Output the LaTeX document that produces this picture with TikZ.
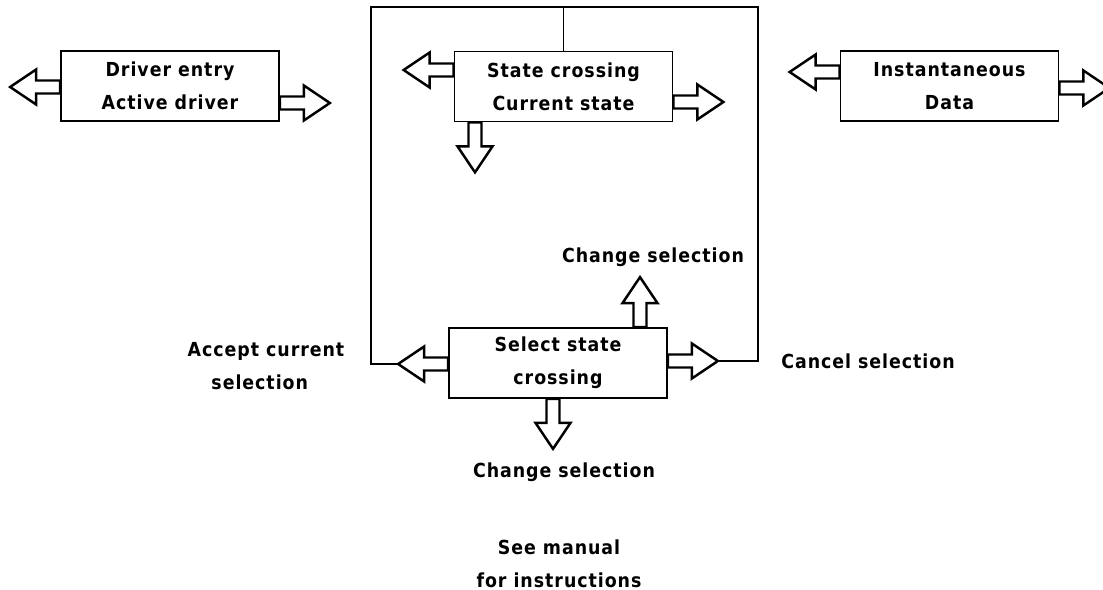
\documentclass[tikz,border=0pt]{standalone}
\usepackage{fontspec}
\setmainfont{DejaVu Sans Condensed}[LetterSpace=5]
\usetikzlibrary{positioning}

\tikzset{
  fatarr/.pic={
    \draw[line width=1.4pt, fill=white, line join=miter]
      (0mm,-1.3mm) -- (4.8mm,-1.3mm) -- (4.8mm,-3.5mm) -- (10mm,0mm)
      -- (4.8mm,3.5mm) -- (4.8mm,1.3mm) -- (0mm,1.3mm) -- cycle;
    \coordinate (-tip) at (10mm,0mm);
  },
}

\begin{document}
\begin{tikzpicture}[
  x=0.2mm, y=-0.2mm,
  box/.style={draw, line width=1pt, minimum width=43.6mm, minimum height=14mm,
              inner sep=0pt, align=center, font=\fontsize{11}{19}\selectfont\bfseries},
  lbl/.style={align=center, font=\fontsize{11}{19}\selectfont\bfseries},
  frame/.style={line width=0.8pt},
]
\useasboundingbox (0,0) rectangle (1103,590);

% boxes
\node[box] (driver) at (170,86)    {Driver entry\\Active driver};
\node[box] (state)  at (563.5,86.5) {State crossing\\Current state};
\node[box] (inst)   at (949.5,86)  {Instantaneous\\Data};
\node[box] (select) at (558,363)   {Select state\\crossing};

% block arrows
\pic[rotate=180] (dL) at (driver.west |- 0,87)  {fatarr};
\pic             (dR) at (driver.east |- 0,103) {fatarr};
\pic[rotate=180] (cL) at (state.west |- 0,70)   {fatarr};
\pic             (cR) at (state.east |- 0,102)  {fatarr};
\pic[rotate=-90] (cD) at (state.south -| 475,0) {fatarr};
\pic[rotate=180] (iL) at (inst.west |- 0,72)    {fatarr};
\pic             (iR) at (inst.east |- 0,88)    {fatarr};
\pic[rotate=180] (sL) at (select.west |- 0,364) {fatarr};
\pic             (sR) at (select.east |- 0,361) {fatarr};
\pic[rotate=90]  (sU) at (select.north -| 640,0) {fatarr};
\pic[rotate=-90] (sD) at (select.south -| 553,0) {fatarr};

% loop frame
\coordinate (ftl) at (371,7);
\coordinate (ftr) at (758,7);
\draw[frame] (sL-tip) -| (ftl) -- (ftr) |- (sR-tip);
\draw[frame] (state.north) -- (state.north |- ftl);

% labels
\node[lbl] (chgup)  at (653,257) {Change selection};
\node[lbl] (accept) at (266,366) {Accept current\\selection\hspace*{2.5mm}};
\node[lbl] (cancel) at (868,361) {Cancel selection};
\node[lbl] (chgdn)  at (564,472) {Change selection};
\node[lbl] (manual) at (559,564) {See manual\\for instructions};
\end{tikzpicture}
\end{document}
